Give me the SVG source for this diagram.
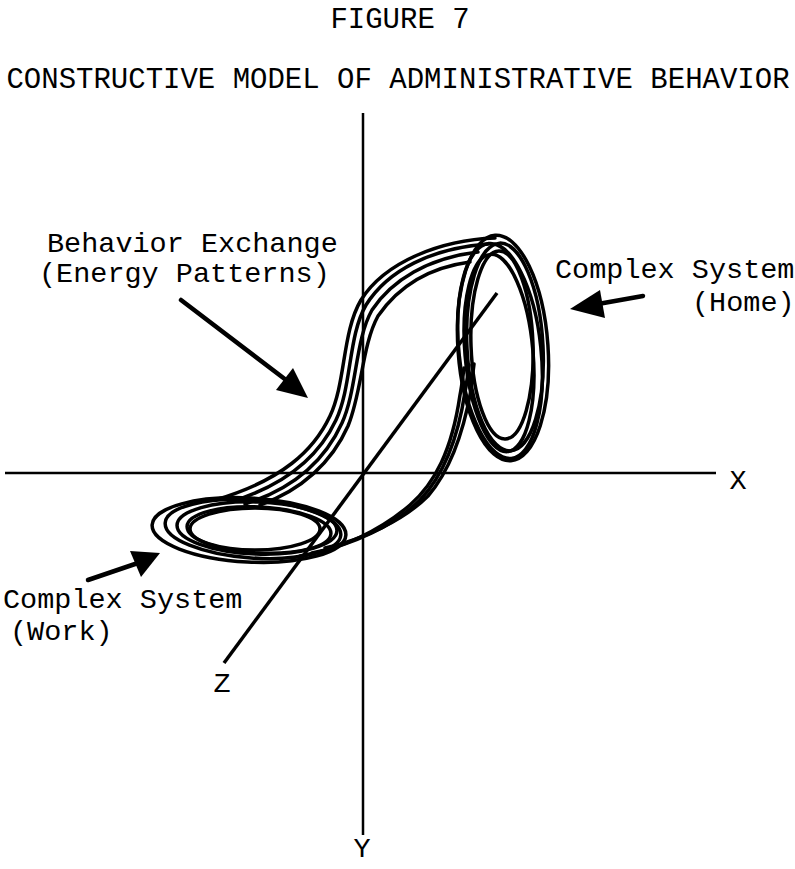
<svg xmlns="http://www.w3.org/2000/svg" width="795" height="869" viewBox="0 0 795 869">
<style>
text{font-family:"Liberation Mono","Courier New",monospace;fill:#000}
.t{font-size:29px}
.l{font-size:28.5px}
.ax{stroke:#000;stroke-width:2.5;fill:none}
.ring{stroke:#000;stroke-width:3.5;fill:none}
.str{stroke:#000;stroke-width:3.5;fill:none;stroke-linecap:round}
.arr{stroke:#000;stroke-width:4.5;fill:none;stroke-linecap:round}
.head{fill:#000;stroke:none}
</style>
<rect width="795" height="869" fill="#fff"/>
<g id="title">
<text class="t" x="400" y="28" text-anchor="middle">FIGURE 7</text>
<text class="t" x="398" y="88" text-anchor="middle">CONSTRUCTIVE MODEL OF ADMINISTRATIVE BEHAVIOR</text>
</g>
<g id="axes">
<line class="ax" x1="363" y1="113" x2="363" y2="835"/>
<line class="ax" x1="5" y1="473" x2="716" y2="473"/>
<line class="ax" x1="497" y1="293" x2="224" y2="663" style="stroke-width:3.5"/>
<text class="l" x="738" y="489" text-anchor="middle">X</text>
<text class="l" x="362" y="857" text-anchor="middle">Y</text>
<text class="l" x="222" y="692" text-anchor="middle">Z</text>
</g>
<g id="home-system">
<ellipse class="ring" cx="503" cy="348" rx="45" ry="113" transform="rotate(-4 503 348)"/>
<ellipse class="ring" cx="500" cy="351" rx="41" ry="108" transform="rotate(-6 500 351)"/>
<ellipse class="ring" cx="505" cy="347" rx="38" ry="104" transform="rotate(-3 505 347)"/>
<ellipse class="ring" cx="499" cy="353" rx="34" ry="99" transform="rotate(-5 499 353)"/>
<ellipse class="ring" cx="502" cy="345" rx="31" ry="94" transform="rotate(-2 502 345)"/>
</g>
<g id="work-system">
<ellipse class="ring" cx="249" cy="530" rx="97" ry="32" transform="rotate(3 249 530)"/>
<ellipse class="ring" cx="253" cy="529" rx="88" ry="29" transform="rotate(4 253 529)"/>
<ellipse class="ring" cx="257" cy="528" rx="80" ry="26" transform="rotate(2 257 528)"/>
<ellipse class="ring" cx="259" cy="530" rx="72" ry="23" transform="rotate(3 259 530)"/>
<ellipse class="ring" cx="255" cy="529" rx="65" ry="21"/>
</g>
<g id="behavior-exchange">
<path class="str" d="M 495 238 C 440 240, 385 262, 361 300 C 342 332, 346 382, 330 416 C 314 450, 283 480, 215 500"/>
<path class="str" d="M 488 244 C 432 248, 388 270, 366 305 C 348 336, 352 386, 336 420 C 320 454, 290 484, 230 502"/>
<path class="str" d="M 478 252 C 428 258, 392 280, 372 310 C 355 340, 357 390, 342 423 C 326 458, 296 488, 245 504"/>
<path class="str" d="M 470 262 C 425 268, 396 290, 378 316 C 362 345, 362 392, 348 426 C 332 462, 302 490, 260 505"/>
<path class="str" d="M 300 556 C 342 549, 381 530, 410 505 C 435 483, 452 450, 460 395 C 462 385, 463 375, 464 368"/>
<path class="str" d="M 312 553 C 352 545, 394 526, 420 500 C 441 478, 457 445, 465 392 C 467 382, 468 372, 469 365"/>
<path class="str" d="M 325 548 C 362 540, 404 520, 428 496 C 447 474, 462 440, 471 390 C 472 380, 473 372, 474 364"/>
</g>
<g id="labels">
<text class="l" x="47" y="252">Behavior Exchange</text>
<text class="l" x="39" y="282">(Energy Patterns)</text>
<text class="l" x="555" y="278">Complex System</text>
<text class="l" x="692" y="311">(Home)</text>
<text class="l" x="3" y="608">Complex System</text>
<text class="l" x="10" y="640">(Work)</text>
</g>
<g id="connectors">
<line class="arr" x1="181" y1="300" x2="290" y2="383"/>
<polygon class="head" points="308,398 276,390 293,368"/>
<line class="arr" x1="643" y1="296" x2="598" y2="304"/>
<polygon class="head" points="570,309 600,290 605,318"/>
<line class="arr" x1="88" y1="580" x2="138" y2="563"/>
<polygon class="head" points="160,553 130,551 141,577"/>
</g>
</svg>
